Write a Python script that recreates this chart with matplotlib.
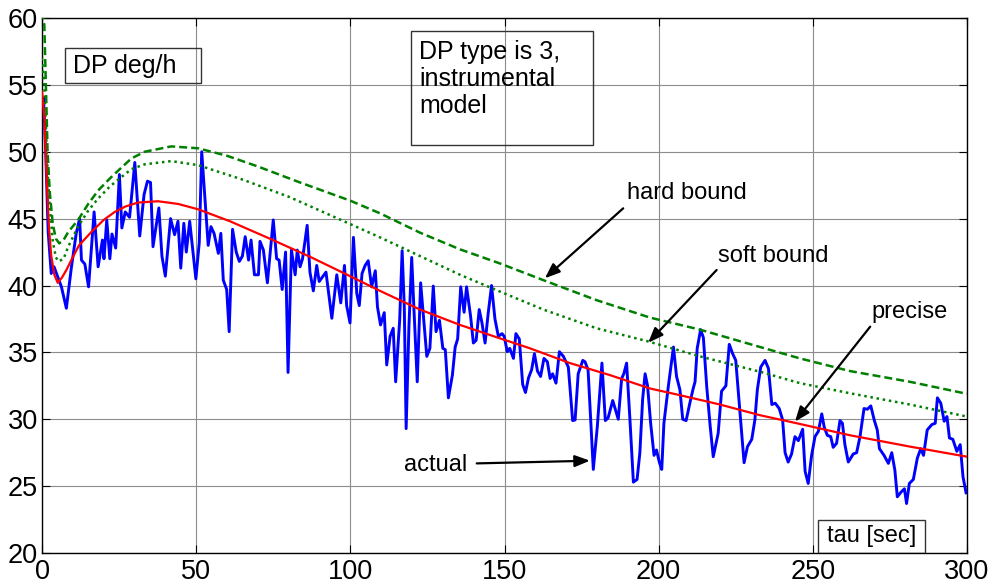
import matplotlib
matplotlib.use("Agg")
import matplotlib.pyplot as plt
from matplotlib.patches import Rectangle

# ---------------- data ----------------
actual_x = [0.5, 1.2, 2.0, 3.0, 3.9, 6.3, 7.9, 9.5, 11.1, 12.2, 12.8, 13.9, 15.1, 16.9, 18.2, 19.6, 20.1,
            21.0, 22.0, 22.7, 23.9, 25.1, 25.9, 27.0, 28.4, 30.1, 31.7, 33.1, 34.2, 35.2, 36.0, 37.9, 38.9,
            40.0, 41.7, 43.0, 44.1, 45.0, 46.0, 46.8, 47.9, 49.9, 51.0, 51.8, 53.9, 54.8, 55.8, 57.2, 58.0,
            58.8, 59.9, 60.7, 61.8, 63.0, 64.0, 65.0, 65.9, 67.0, 67.8, 68.9, 70.2, 70.7, 71.8, 73.1, 75.0,
            76.1, 76.9, 77.9, 79.0, 79.8, 80.9, 82.1, 82.8, 83.7, 84.5, 86.0, 86.9, 88.0, 89.1, 89.9, 92.1,
            94.0, 95.6, 96.9, 98.1, 98.8, 99.9, 101.0, 102.1, 102.9, 103.8, 104.8, 105.8, 106.9, 108.1, 108.8,
            109.8, 111.0, 111.8, 112.9, 113.9, 114.7, 116.0, 116.8, 117.5, 118.1, 119.0, 119.9, 120.6, 121.7,
            122.8, 124.0, 124.8, 125.8, 126.9, 127.8, 128.9, 130.0, 130.8, 131.8, 133.1, 134.0, 134.8, 135.8,
            136.9, 137.7, 139.0, 139.9, 140.8, 141.8, 142.7, 143.7, 144.7, 145.8, 146.9, 148.0, 149.2, 149.9,
            150.9, 151.7, 152.9, 153.7, 154.8, 155.9, 156.8, 157.8, 158.8, 159.7, 160.7, 161.7, 162.8, 163.9,
            164.8, 165.6, 166.7, 167.8, 169.1, 170.7, 172.1, 172.9, 173.9, 175.4, 176.1, 177.1, 178.8, 180.1,
            181.6, 182.7, 183.6, 185.1, 186.9, 188.0, 188.7, 189.6, 190.7, 191.8, 193.0, 193.9, 194.8, 195.6,
            196.4, 197.4, 198.5, 199.3, 200.2, 201.0, 201.7, 203.1, 204.8, 205.8, 206.9, 207.8, 208.9, 210.2,
            211.2, 211.8, 212.5, 213.6, 214.5, 215.6, 216.7, 217.7, 219.3, 220.4, 221.8, 222.9, 224.0, 225.0,
            226.4, 227.7, 228.8, 230.2, 231.2, 232.0, 233.1, 234.5, 235.6, 236.7, 237.8, 239.1, 240.2, 241.0,
            242.0, 243.1, 244.2, 245.3, 246.7, 247.5, 248.5, 249.6, 250.7, 251.8, 252.9, 253.7, 254.7, 255.8,
            256.6, 257.7, 258.8, 259.6, 260.4, 261.5, 263.1, 264.2, 265.3, 266.6, 267.7, 268.8, 269.9, 270.9,
            271.6, 273.1, 274.5, 275.6, 276.6, 277.4, 278.6, 279.7, 280.4, 281.3, 282.6, 283.9, 285.0, 285.9,
            287.1, 288.6, 289.7, 290.4, 291.5, 292.6, 293.5, 294.3, 295.4, 296.7, 297.8, 298.7, 299.7]
actual_y = [54.0, 50.0, 44.0, 40.9, 41.4, 39.9, 38.3, 41.3, 43.9, 45.0, 41.9, 41.6, 39.9, 45.5, 41.4, 43.4, 42.0,
            44.9, 42.0, 43.85, 42.8, 48.3, 44.3, 45.5, 45.1, 49.2, 43.7, 46.8, 47.8, 47.7, 42.9, 45.8, 42.2,
            40.7, 45.0, 43.8, 44.8, 41.3, 44.65, 42.5, 44.8, 40.5, 43.2, 50.0, 43.0, 44.4, 43.9, 42.4, 43.9,
            40.4, 39.7, 36.55, 44.2, 42.5, 41.8, 42.2, 43.65, 41.9, 43.4, 40.8, 40.8, 43.3, 42.65, 40.2, 44.9,
            42.0, 41.9, 39.7, 42.5, 33.5, 42.65, 40.8, 42.65, 41.4, 42.0, 44.5, 41.0, 39.6, 41.5, 40.3, 41.0,
            37.55, 40.8, 38.7, 41.5, 38.5, 37.2, 43.6, 39.4, 38.5, 40.9, 41.5, 41.85, 39.9, 41.1, 38.4,
            37.05, 37.97, 34.06, 36.2, 36.8, 32.8, 37.4, 42.6, 38.4, 29.3, 36.9, 42.1, 38.4, 32.8,
            40.2, 36.9, 34.7, 35.3, 39.96, 36.55, 37.4, 35.3, 35.2, 31.6, 33.3, 35.4, 36.0, 39.9,
            38.0, 39.9, 37.7, 35.7, 35.9, 38.2, 37.2, 35.7, 37.9, 40.0, 37.5, 36.2, 36.4, 36.2,
            35.05, 35.3, 34.55, 36.4, 36.0, 32.6, 32.0, 33.1, 33.7, 34.9, 33.6, 33.2, 34.55, 34.3,
            33.05, 33.4, 32.7, 35.05, 34.7, 33.9, 29.9, 29.95, 33.4, 34.4, 34.3, 33.7, 26.25, 29.45,
            34.2, 29.9, 30.1, 31.4, 30.0, 33.05, 33.4, 34.2, 29.9, 25.3, 25.5, 27.5, 31.5, 33.4,
            32.5, 29.7, 27.3, 27.7, 26.8, 26.25, 29.7, 32.4, 35.4, 33.2, 32.2, 30.0, 29.9, 31.3,
            32.3, 32.8, 35.3, 36.7, 36.1, 32.4, 29.5, 27.2, 28.95, 32.1, 32.5, 35.6, 34.9, 34.4,
            30.45, 26.75, 27.95, 28.5, 29.95, 32.2, 33.9, 34.4, 33.8, 31.1, 31.2, 30.8, 29.95, 27.5,
            26.8, 27.4, 28.7, 28.4, 29.25, 26.1, 25.2, 27.3, 28.7, 29.1, 30.4, 29.4, 28.8, 28.7,
            27.9, 28.2, 29.9, 29.7, 28.1, 26.8, 27.4, 27.5, 28.7, 30.8, 30.75, 31.0, 29.95, 29.2,
            27.8, 27.3, 26.7, 27.5, 26.2, 24.2, 24.55, 24.8, 23.7, 25.2, 25.5, 27.1, 27.8, 27.3,
            29.2, 29.6, 29.7, 31.6, 31.2, 29.85, 30.2, 28.6, 28.5, 27.6, 28.1, 25.7, 24.5]

precise_x = [0, 0.75, 1.5, 2.2, 3.0, 4.0, 5.1, 6.5, 8, 9.5, 12, 16, 20, 23.6, 27, 31.1, 37.6, 44.1, 50.6,
             61.0, 73.9, 86.9, 99.9, 109.6, 122.6, 135.6, 148.5, 158.3, 171.2, 184.2, 197.2, 206.9,
             219.9, 232.9, 244.8, 262.1, 281.6, 300]
precise_y = [54.5, 52.6, 48.0, 44.5, 42.2, 40.8, 40.2, 40.6, 41.2, 41.9, 43.0, 44.0, 44.9, 45.5, 45.9, 46.2,
             46.3, 46.1, 45.7, 44.8, 43.5, 42.15, 40.7, 39.6, 38.2, 37.05, 36.05, 35.3, 34.2, 33.3, 32.3,
             31.8, 31.1, 30.3, 29.7, 28.8, 27.95, 27.2]

hard_x = [0, 0.75, 1.8, 2.5, 3.5, 4.5, 5.6, 7, 8.5, 11.7, 15, 18.2, 22, 25.7, 29, 33.3, 41.9, 50.6, 60, 70,
          83.7, 99.9, 109.6, 122.6, 135.6, 148.5, 162.6, 179.9, 197.2, 213.4, 232.9, 245.8, 262.1, 281.5, 300]
hard_y = [60.5, 59.5, 50.1, 47.0, 44.6, 43.5, 43.15, 43.4, 44.0, 44.9, 46.1, 47.1, 48.0, 48.8, 49.5, 50.0,
          50.4, 50.26, 49.7, 48.9, 47.7, 46.35, 45.4, 43.95, 42.7, 41.65, 40.4, 38.9, 37.6, 36.7, 35.4,
          34.55, 33.6, 32.8, 31.9]

soft_x = [0, 0.75, 1.8, 2.5, 3.5, 4.5, 5.4, 7, 8.5, 11.7, 15, 18.2, 22, 25.7, 29, 33.3, 41.9, 50.6, 65.3,
          80.4, 99.9, 109.6, 122.6, 135.6, 148.5, 162.6, 179.9, 196.1, 213.4, 232.9, 245.8, 262.1, 281.5, 300]
soft_y = [57.0, 55.0, 48.5, 46.0, 43.3, 42.1, 41.8, 42.0, 42.9, 44.4, 45.6, 46.5, 47.4, 48.1, 48.7, 49.06,
          49.3, 49.0, 47.9, 46.6, 44.6, 43.6, 42.2, 40.8, 39.55, 38.2, 36.8, 35.85, 34.7, 33.55, 32.7,
          31.94, 31.1, 30.2]

x_ticks = [0, 50, 100, 150, 200, 250, 300]
y_ticks = [20, 25, 30, 35, 40, 45, 50, 55, 60]

# ---------------- figure ----------------
regular = ['Liberation Sans', 'DejaVu Sans']

fig = plt.figure(figsize=(9.89, 5.87), dpi=100)
ax = fig.add_axes([42 / 989, 1 - 553 / 587, 925 / 989, 535 / 587])

ax.plot(actual_x, actual_y, color='#0000ff', lw=2.1, zorder=3)
ax.plot(hard_x, hard_y, color='#008000', lw=1.8, linestyle=(0, (3.2, 1.6)), zorder=4)
ax.plot(soft_x, soft_y, color='#008000', lw=1.8, linestyle=(0, (1, 1.5)), zorder=4)
ax.plot(precise_x, precise_y, color='#ff0000', lw=1.6, zorder=5)

ax.set_xlim(0, 300)
ax.set_ylim(20, 60)
ax.set_xticks(x_ticks)
ax.set_yticks(y_ticks)
ax.grid(True, color='#8c8c8c', lw=0.8)
ax.set_axisbelow(True)
ax.tick_params(direction='in', top=True, right=True, length=6, width=0.8)
ax.tick_params(axis='x', pad=4)
ax.tick_params(axis='y', pad=3)
for lab in ax.get_xticklabels() + ax.get_yticklabels():
    lab.set_family(regular)
    lab.set_fontsize(19.5)
for s in ax.spines.values():
    s.set_linewidth(1.0)

# text boxes
ax.add_patch(Rectangle((7.36, 55.12), 44.3, 2.61, fill=False, ec='#333333', lw=1.0, zorder=6))
ax.text(10.0, 56.42, 'DP deg/h', family=regular, fontsize=18, ha='left', va='center', zorder=7)

ax.add_patch(Rectangle((119.6, 50.5), 59.2, 8.53, fill=False, ec='#333333', lw=1.0, zorder=6))
ax.text(122.3, 55.44, 'DP type is 3,\ninstrumental\nmodel', family=regular, fontsize=18,
        ha='left', va='center', linespacing=1.15, zorder=7)

ax.add_patch(Rectangle((251.7, 20.0), 34.7, 2.5, fill=False, ec='#333333', lw=1.0, zorder=6))
ax.text(269.0, 21.25, 'tau [sec]', family=regular, fontsize=17, ha='center', va='center', zorder=7)

# annotations
arrow = dict(arrowstyle='-|>,head_length=0.9,head_width=0.35', color='k', lw=1.6,
             shrinkA=0, shrinkB=0)
ax.annotate('', xy=(163.1, 40.54), xytext=(188.5, 45.77), arrowprops=arrow, zorder=8)
ax.text(189.6, 46.92, 'hard bound', family=regular, fontsize=17, ha='left', va='center')
ax.annotate('', xy=(196.6, 35.72), xytext=(218.8, 41.16), arrowprops=arrow, zorder=8)
ax.text(219.3, 42.2, 'soft bound', family=regular, fontsize=17, ha='left', va='center')
ax.annotate('', xy=(244.2, 29.82), xytext=(268.6, 36.92), arrowprops=arrow, zorder=8)
ax.text(269.1, 38.04, 'precise', family=regular, fontsize=17, ha='left', va='center')
ax.annotate('', xy=(177.7, 26.9), xytext=(141.0, 26.7), arrowprops=arrow, zorder=8)
ax.text(117.4, 26.58, 'actual', family=regular, fontsize=17, ha='left', va='center')

fig.savefig('out.png', dpi=100)
